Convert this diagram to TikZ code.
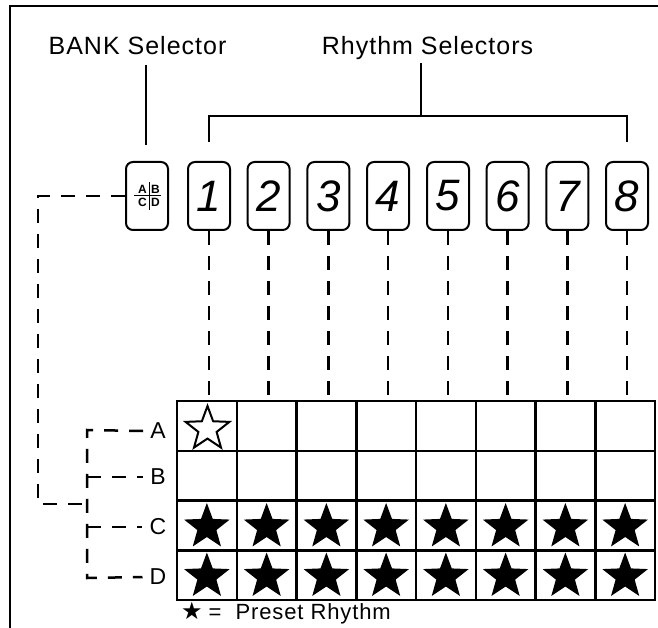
\documentclass[tikz,border=0pt]{standalone}
\usepackage{fontspec}
\setmainfont{Liberation Sans}
\newfontfamily\lab[LetterSpace=4]{Liberation Sans}
\newfontfamily\djv{DejaVu Sans}
\usetikzlibrary{shapes.geometric}
\tikzset{
  solidline/.style={line width=2pt},
  dashline/.style={line width=2.5pt, dash pattern=on 14pt off 11pt},
  gridline/.style={line width=2.5pt},
  btn/.style={draw, line width=2pt, rounded corners=7pt, minimum width=42pt, minimum height=68pt, inner sep=0pt, font=\fontsize{44}{44}\selectfont\itshape},
  heading/.style={font=\lab\fontsize{25}{25}\selectfont, inner sep=0pt, anchor=base},
  rowlab/.style={font=\fontsize{23}{23}\selectfont, inner ysep=0pt, inner xsep=7pt},
  bankl/.style={font=\bfseries\fontsize{12}{12}\selectfont, inner sep=0pt},
  fstar/.style={star, star points=5, star point ratio=2.4, fill=black, minimum size=48pt, inner sep=0pt},
  ostar/.style={star, star points=5, star point ratio=2.4, draw=black, line width=2pt, fill=white, minimum size=46pt, inner sep=0pt},
}
\begin{document}
\begin{tikzpicture}[x=1pt,y=-1pt]
\useasboundingbox (0,0) rectangle (658,628);
% frame
\draw[solidline] (10,628) -- (10,6) -- (658,6);
% headings
\node[heading] (bankt) at (137.5,55) {BANK Selector};
\node[heading] (rhyt) at (427.5,55) {Rhythm Selectors};
% buttons
\node[btn] (b0) at (147,196) {};
\foreach \i/\x in {1/209,2/268.6,3/328.4,4/388,5/448,6/507.6,7/567.4,8/627}{
  \node[btn] (b\i) at (\x,196) {\i};
}
% bank button inner
\draw[line width=1.2pt] (134,195.5) -- (161,195.5);
\draw[line width=1.2pt] (149.5,182) -- (149.5,210);
\node[bankl] (kA) at (142.5,189) {A};
\node[bankl] (kB) at (155.5,189) {B};
\node[bankl] (kC) at (142.5,202.5) {C};
\node[bankl] (kD) at (155.5,202.5) {D};
% heading connectors
\coordinate (bk1) at (146,65);
\coordinate (bk2) at (146,145);
\draw[solidline] (bk1) -- (bk2);
\coordinate (rtop) at (421,63);
\coordinate (rs) at (421,116);
\coordinate (r1) at (209,142);
\coordinate (r8) at (627,142);
\draw[solidline] (rtop) -- (rs);
\draw[solidline] (r1) |- (rs) -| (r8);
% grid
\draw[gridline] (177,401) rectangle (655,600);
\foreach \k in {1,...,7}{
  \draw[gridline] (177+59.75*\k,401) -- (177+59.75*\k,600);
}
\foreach \r in {450.75,500.5,550.25}{
  \draw[gridline] (177,\r) -- (655,\r);
}
% dashed connectors from buttons to grid
\coordinate (gt) at (0,401);
\foreach \i in {1,...,8}{
  \draw[dashline] (b\i.south) -- (b\i.south |- gt);
}
% stars
\node[ostar] (sA1) at (207.5,429) {};
\foreach \i in {1,...,8}{
  \node[fstar] (sC\i) at (177+59.75*\i-29.875,527) {};
  \node[fstar] (sD\i) at (177+59.75*\i-29.875,576.5) {};
}
% row labels
\node[rowlab] (lA) at (158,431) {A};
\node[rowlab] (lB) at (158,477) {B};
\node[rowlab] (lC) at (158,527) {C};
\node[rowlab] (lD) at (158,577) {D};
% bank dashed connector
\coordinate (bc) at (38,504);
\coordinate (be) at (87,504);
\draw[dashline] (b0.west) -| (bc) -- (be);
\coordinate (brA) at (87,430);
\coordinate (brB) at (87,477);
\coordinate (brC) at (87,527);
\coordinate (brD) at (87,578);
\draw[dashline] (lA.west) -- (brA) -- (brD) -- (lD.west);
\draw[dashline] (brB) -- (lB.west);
\draw[dashline] (brC) -- (lC.west);
% legend
\node[font=\lab\fontsize{22}{22}\selectfont, inner sep=0pt, anchor=base west] (leg) at (181,619) {{\djv\fontsize{24}{24}\selectfont ★}\hspace{6pt}=\hspace{14pt}Preset Rhythm};
\end{tikzpicture}
\end{document}
